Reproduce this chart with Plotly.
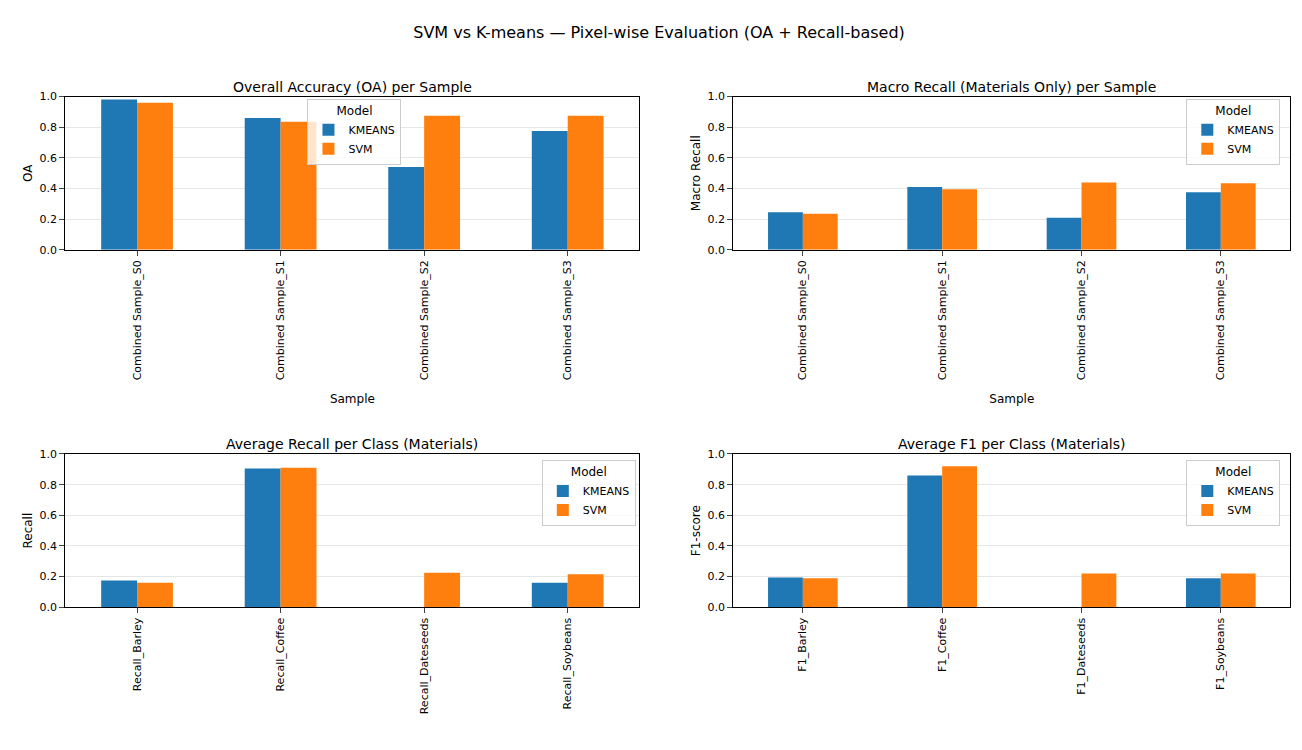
import plotly.graph_objects as go
from plotly.subplots import make_subplots


def _panel_data() -> list:
    samples = ["Combined Sample_S0", "Combined Sample_S1", "Combined Sample_S2", "Combined Sample_S3"]
    return [
        {
            "title": "Overall Accuracy (OA) per Sample",
            "labels": samples,
            "kmeans": [0.98, 0.86, 0.54, 0.775],
            "svm": [0.96, 0.835, 0.875, 0.875],
            "ylabel": "OA",
            "xlabel": "Sample",
            "legend": dict(x=0.23, y=0.885),
        },
        {
            "title": "Macro Recall (Materials Only) per Sample",
            "labels": samples,
            "kmeans": [0.245, 0.41, 0.21, 0.375],
            "svm": [0.235, 0.395, 0.44, 0.435],
            "ylabel": "Macro Recall",
            "xlabel": "Sample",
            "legend": dict(x=0.905, y=0.885),
        },
        {
            "title": "Average Recall per Class (Materials)",
            "labels": ["Recall_Barley", "Recall_Coffee", "Recall_Dateseeds", "Recall_Soybeans"],
            "kmeans": [0.175, 0.905, 0.0, 0.16],
            "svm": [0.16, 0.91, 0.225, 0.215],
            "ylabel": "Recall",
            "xlabel": None,
            "legend": dict(x=0.41, y=0.395),
        },
        {
            "title": "Average F1 per Class (Materials)",
            "labels": ["F1_Barley", "F1_Coffee", "F1_Dateseeds", "F1_Soybeans"],
            "kmeans": [0.195, 0.86, 0.0, 0.19],
            "svm": [0.19, 0.92, 0.22, 0.22],
            "ylabel": "F1-score",
            "xlabel": None,
            "legend": dict(x=0.905, y=0.395),
        },
    ]


def _create_figure(panels: list) -> go.Figure:
    fig = make_subplots(rows=2, cols=2, subplot_titles=[p["title"] for p in panels])
    x_domains = [[0.044, 0.485], [0.557, 0.985]]
    y_domains = [[0.68, 0.888], [0.195, 0.403]]
    for i, p in enumerate(panels):
        row, col = i // 2 + 1, i % 2 + 1
        legend_name = "legend" if i == 0 else f"legend{i + 1}"
        for name, key, color in [("KMEANS", "kmeans", "#1f77b4"), ("SVM", "svm", "#ff7f0e")]:
            fig.add_trace(
                go.Bar(x=p["labels"], y=p[key], name=name, marker_color=color, marker_line_width=0,
                       legend=legend_name),
                row=row,
                col=col,
            )
        suffix = "" if i == 0 else str(i + 1)
        fig.layout["xaxis" + suffix].domain = x_domains[col - 1]
        fig.layout["yaxis" + suffix].domain = y_domains[row - 1]
        fig.update_xaxes(
            tickangle=-90, showline=True, mirror=True, linecolor="black", ticks="outside",
            title_text=p["xlabel"], title_font_size=12, row=row, col=col,
        )
        fig.update_yaxes(
            range=[0, 1], dtick=0.2, tickformat=".1f", showline=True, mirror=True, linecolor="black",
            ticks="outside", gridcolor="#e6e6e6", title_text=p["ylabel"], title_font_size=12,
            title_standoff=4, row=row, col=col,
        )
        fig.layout[legend_name] = dict(
            x=p["legend"]["x"], y=p["legend"]["y"], xanchor="left", yanchor="top",
            title=dict(text="Model", side="top center", font=dict(size=12)), bordercolor="#cccccc",
            borderwidth=1, bgcolor="rgba(255,255,255,0.8)", font=dict(size=11), tracegroupgap=0,
        )
    # move subplot titles over their panels
    for ann, (xd, yd) in zip(fig.layout.annotations, [(0, 0), (1, 0), (0, 1), (1, 1)]):
        ann.x = sum(x_domains[xd]) / 2
        ann.y = y_domains[yd][1]
        ann.font = dict(size=14)
    return fig


def generate_chart():
    fig = _create_figure(_panel_data())
    fig.update_layout(
        title=dict(text="SVM vs K-means — Pixel-wise Evaluation (OA + Recall-based)", x=0.5, y=0.975, font=dict(size=16)),
        width=1302,
        height=750,
        margin=dict(l=0, r=0, t=0, b=0),
        plot_bgcolor="white",
        paper_bgcolor="white",
        bargap=0.5,
        bargroupgap=0,
        font=dict(family="DejaVu Sans", size=11, color="black"),
    )
    return fig


fig = generate_chart()
fig.write_html("out.html")
